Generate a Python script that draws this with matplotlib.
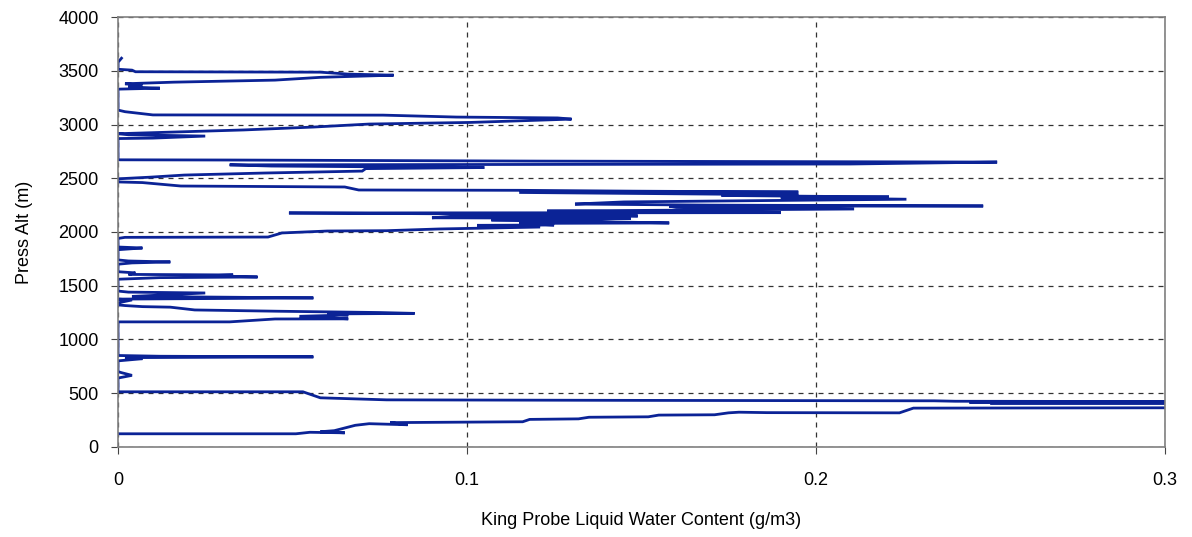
import numpy as np
import matplotlib.pyplot as plt

plt.rcParams['font.family'] = ['Liberation Sans', 'DejaVu Sans']

# King probe LWC (g/m3) and pressure altitude (m)
lwc = [
    0.000, 0.051, 0.055, 0.065, 0.058, 0.062, 0.068, 0.072, 0.083, 0.078,
    0.116, 0.118, 0.132, 0.135, 0.152, 0.155, 0.171, 0.175, 0.178, 0.186,
    0.224, 0.228, 0.300, 0.320, 0.320, 0.250, 0.320, 0.244, 0.320, 0.240,
    0.234, 0.150, 0.077, 0.058, 0.053, 0.000,
    0.000, 0.004, 0.001, 0.000, 0.000, 0.007, 0.002, 0.056, 0.012, 0.000,
    0.000, 0.032, 0.045, 0.066, 0.052, 0.066, 0.060, 0.085, 0.075, 0.046,
    0.022, 0.015, 0.007, 0.002, 0.000,
    0.000, 0.004, 0.000, 0.056, 0.022, 0.004, 0.025, 0.003, 0.000,
    0.000, 0.012, 0.040, 0.025, 0.033, 0.003, 0.005, 0.000, 0.000, 0.004,
    0.015, 0.003, 0.000, 0.000, 0.007, 0.000, 0.000, 0.002,
    0.043, 0.047, 0.060, 0.077, 0.092, 0.121, 0.103, 0.125, 0.115, 0.158,
    0.131, 0.107, 0.131, 0.147, 0.090, 0.096, 0.149, 0.120, 0.049, 0.190,
    0.150, 0.123, 0.147, 0.211, 0.160, 0.158, 0.248, 0.170, 0.131, 0.145,
    0.226, 0.190, 0.221, 0.173, 0.195, 0.115, 0.195, 0.148, 0.115, 0.069,
    0.065, 0.018, 0.007, 0.000,
    0.000, 0.009, 0.019, 0.042, 0.070, 0.071, 0.105, 0.044, 0.032, 0.210,
    0.252, 0.120, 0.032, 0.000, 0.000,
    0.010, 0.025, 0.003, 0.000, 0.015, 0.036, 0.056, 0.072, 0.101, 0.130,
    0.126, 0.097, 0.076, 0.010, 0.002, 0.000, 0.000,
    0.012, 0.003, 0.007, 0.002, 0.016, 0.045, 0.058, 0.079, 0.066, 0.058,
    0.005, 0.004, 0.000, 0.000, 0.001,
]
alt = [
    121, 121, 135, 130, 140, 150, 200, 215, 205, 225,
    233, 255, 260, 275, 279, 295, 298, 316, 322, 318,
    316, 360, 363, 370, 402, 407, 412, 416, 420, 424,
    428, 432, 437, 456, 512, 512,
    640, 665, 690, 700, 800, 820, 830, 837, 843, 850,
    1163, 1163, 1190, 1191, 1215, 1227, 1237, 1242, 1250, 1262,
    1274, 1300, 1305, 1315, 1321,
    1340, 1367, 1375, 1386, 1395, 1400, 1432, 1440, 1450,
    1560, 1575, 1581, 1592, 1600, 1605, 1619, 1630, 1700, 1712,
    1721, 1730, 1740, 1835, 1851, 1860, 1940, 1950,
    1953, 1991, 2009, 2012, 2028, 2046, 2062, 2065, 2080, 2084,
    2100, 2112, 2115, 2128, 2132, 2145, 2149, 2165, 2177, 2180,
    2190, 2195, 2200, 2214, 2230, 2240, 2242, 2250, 2260, 2280,
    2305, 2320, 2326, 2340, 2346, 2368, 2372, 2380, 2388, 2391,
    2419, 2428, 2460, 2466,
    2495, 2510, 2530, 2549, 2567, 2590, 2600, 2614, 2625, 2633,
    2651, 2660, 2670, 2672, 2870,
    2874, 2893, 2905, 2915, 2930, 2950, 2977, 3005, 3020, 3051,
    3062, 3070, 3088, 3090, 3120, 3135, 3330,
    3339, 3350, 3367, 3380, 3395, 3414, 3440, 3460, 3470, 3488,
    3492, 3507, 3515, 3580, 3618,
]

fig = plt.figure(figsize=(11.92, 5.37), dpi=100)
ax = fig.add_axes([0.099, 0.168, 0.878, 0.800])

ax.plot(lwc, alt, color='#0B2396', linewidth=2.0, solid_joinstyle='miter')

ax.set_xlim(0, 0.3)
ax.set_ylim(0, 4000)
ax.set_xticks([0, 0.1, 0.2, 0.3])
ax.set_xticklabels(['0', '0.1', '0.2', '0.3'])
ax.set_yticks(np.arange(0, 4001, 500))

ax.grid(True, color='#333333', linestyle=(0, (4, 4)), linewidth=0.9)
for s in ax.spines.values():
    s.set_color('#808080')
    s.set_linewidth(1.2)

ax.tick_params(axis='both', direction='out', length=5, color='#444444',
               labelsize=13)
ax.tick_params(axis='x', pad=13)
ax.tick_params(axis='y', pad=9)

ax.set_xlabel('King Probe Liquid Water Content (g/m3)', fontsize=13, labelpad=17)
ax.set_ylabel('Press Alt (m)', fontsize=13, labelpad=18)

fig.savefig('out.png', dpi=100)
